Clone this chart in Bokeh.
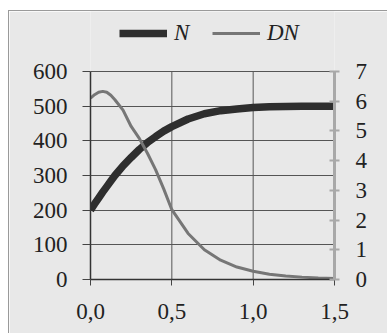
from bokeh.plotting import figure
from bokeh.models import Range1d, LinearAxis, FixedTicker, Legend, LegendItem
from bokeh.embed import file_html
from bokeh.resources import INLINE

# time
t = [0.0, 0.025, 0.05, 0.075, 0.1, 0.125, 0.15, 0.2, 0.25, 0.3, 0.35, 0.4, 0.45, 0.5,
     0.6, 0.7, 0.8, 0.9, 1.0, 1.1, 1.2, 1.3, 1.4, 1.5]
# population N (left axis)
n_vals = [200, 218, 235, 252, 268, 284, 300, 328, 352, 375, 395, 412, 428, 441,
          463, 478, 487, 492, 496, 498, 499, 500, 500, 500]
# increment DN (right axis)
dn_vals = [6.1, 6.22, 6.3, 6.33, 6.3, 6.2, 6.05, 5.7, 5.15, 4.75, 4.25, 3.7, 3.05, 2.35,
           1.55, 1.0, 0.65, 0.42, 0.28, 0.18, 0.12, 0.08, 0.05, 0.03]

x_ticks = [0.0, 0.5, 1.0, 1.5]
x_labels = ["0,0", "0,5", "1,0", "1,5"]
y_ticks = [0, 100, 200, 300, 400, 500, 600]
dn_ticks = [0, 1, 2, 3, 4, 5, 6, 7]

BG = "#e8e8e8"
FONT = "Liberation Serif"

# frame spans the full height so the legend above the grid is not clipped;
# the ranges are stretched so that 600 / 7 sit at the top of the grid
FRAME_H = 268.0
GRID_H = 208.0
y_top = y_ticks[-1] * FRAME_H / GRID_H
dn_top = dn_ticks[-1] * FRAME_H / GRID_H

p = figure(width=379, height=323, output_backend="svg", toolbar_location=None,
           x_range=Range1d(0, 1.5), y_range=Range1d(0, y_top),
           min_border_left=81, min_border_right=54, min_border_top=0, min_border_bottom=55)
p.styles = {"margin-left": "8px", "margin-top": "10px",
            "border-left": "1px solid #9a9a9a", "border-top": "1px solid #9a9a9a"}
p.background_fill_color = BG
p.border_fill_color = BG
p.outline_line_color = None
p.extra_y_ranges = {"dn": Range1d(0, dn_top)}

p.xaxis.ticker = FixedTicker(ticks=x_ticks)
p.xaxis.major_label_overrides = {k: v for k, v in zip(x_ticks, x_labels)}
p.yaxis.ticker = FixedTicker(ticks=y_ticks)
p.yaxis.bounds = (y_ticks[0], y_ticks[-1])
for ax in (p.xaxis, p.yaxis):
    ax.major_label_text_font = FONT
    ax.major_label_text_font_size = "23px"
    ax.major_label_text_color = "#222222"
    ax.axis_line_color = "#333333"
    ax.axis_line_width = 1.5
    ax.major_tick_line_color = "#444444"
    ax.major_tick_in = 0
    ax.minor_tick_line_color = None
p.xaxis.major_tick_out = 6
p.xaxis.major_label_standoff = 18
p.yaxis.major_tick_out = 8
p.yaxis.major_label_standoff = 15

p.xgrid.grid_line_color = None
p.ygrid.ticker = FixedTicker(ticks=y_ticks)
p.ygrid.grid_line_color = "#555555"
p.ygrid.grid_line_width = 1
# vertical grid lines limited to the value axis extent
p.segment(x0=x_ticks, y0=[y_ticks[0]] * len(x_ticks), x1=x_ticks,
          y1=[y_ticks[-1]] * len(x_ticks), line_color="#555555", line_width=1)

right = LinearAxis(y_range_name="dn", ticker=FixedTicker(ticks=dn_ticks),
                   bounds=(dn_ticks[0], dn_ticks[-1]))
right.axis_line_color = "#a8a8a8"
right.axis_line_width = 3
right.major_tick_line_color = "#a8a8a8"
right.major_tick_line_width = 2
right.major_tick_in = 5
right.major_tick_out = 5
right.minor_tick_line_color = None
right.major_label_text_font = FONT
right.major_label_text_font_size = "23px"
right.major_label_text_color = "#222222"
right.major_label_standoff = 16
p.add_layout(right, "right")

r_n = p.line(t, n_vals, line_color="#2e2e2e", line_width=7.5)
r_dn = p.line(t, dn_vals, line_color="#767676", line_width=3, y_range_name="dn")

legend = Legend(items=[LegendItem(label="N", renderers=[r_n]),
                       LegendItem(label="DN", renderers=[r_dn])],
                orientation="horizontal", location=(29, 233),
                background_fill_alpha=0, border_line_color=None,
                label_text_font=FONT, label_text_font_style="italic",
                label_text_font_size="23px", label_text_color="#222222",
                glyph_width=48, label_standoff=7, spacing=18,
                margin=0, padding=4)
p.add_layout(legend)

open("out.html", "w").write(file_html(p, INLINE))
